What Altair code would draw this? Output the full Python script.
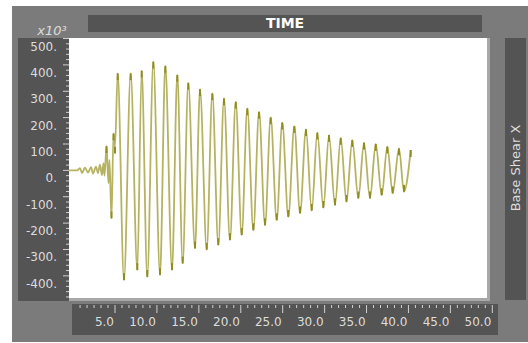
import altair as alt
import pandas as pd

# Base shear response (x10^3) against time (s)
time_s = [-0.48, 0.47, 0.83, 1.06, 1.42, 1.78, 2.14, 2.38, 2.73, 2.97,
          3.21, 3.45, 3.63, 3.75, 3.99, 4.22, 4.34, 4.58, 4.82, 5.00,
          5.32, 6.07, 6.87, 7.66, 8.18, 8.85, 9.57, 10.37, 11.00, 11.80,
          12.43, 13.07, 13.74, 14.54, 15.14, 15.94, 16.61, 17.32, 18.00, 18.71,
          19.40, 20.11, 20.78, 21.50, 22.18, 22.89, 23.57, 24.29, 24.95, 25.67,
          26.39, 27.07, 27.78, 28.46, 29.13, 29.85, 30.52, 31.24, 31.92, 32.61,
          33.30, 34.02, 34.70, 35.41, 36.10, 36.81, 37.48, 38.12, 38.87, 39.47,
          40.27]
base_shear = [0, 0, 8, -10, 10, -8, 12, -12, 14, -10,
              22, -18, 27, -20, 92, -49, 40, -182, 140, 90,
              368, -416, 368, -378, 378, -404, 412, -397, 396, -378,
              362, -353, 332, -296, 308, -301, 292, -283, 273, -264,
              260, -245, 235, -227, 222, -208, 201, -189, 181, -176,
              168, -163, 156, -153, 143, -142, 134, -132, 123, -119,
              115, -106, 105, -106, 100, -94, 90, -87, 83, -81,
              77]

x_ticks = [5.0, 10.0, 15.0, 20.0, 25.0, 30.0, 35.0, 40.0, 45.0, 50.0]
y_ticks = [-400, -300, -200, -100, 0, 100, 200, 300, 400, 500]
# five minor divisions between labelled x ticks, four between y ticks
x_minor = [k * 5 / 6 for k in range(1, 60) if k % 6 != 0]
y_minor = [v for v in range(-480, 500, 20) if v % 100 != 0]

# view origin inside the 528x343 canvas
OX, OY = 69, 38
W, H = 429, 260

FRAME = "#7b7b7b"
DARK = "#545454"
LABEL = "#dcdcdc"
TICK = "#d0d0d0"
FONT = "DejaVu Sans"

x_scale = alt.Scale(domain=[-0.487, 50.68], nice=False, zero=False)
y_scale = alt.Scale(domain=[-484, 502], nice=False, zero=False)

one = pd.DataFrame({"k": [0]})


def box(x0, y0, x1, y1, color):
    return alt.Chart(one).mark_rect(color=color).encode(
        x=alt.value(x0 - OX), x2=alt.value(x1 - OX),
        y=alt.value(y0 - OY), y2=alt.value(y1 - OY),
    )


def label(txt, x, y, **kw):
    return alt.Chart(one).mark_text(text=txt, **kw).encode(
        x=alt.value(x - OX), y=alt.value(y - OY)
    )


def xpos(field):
    return alt.X(field, scale=x_scale, axis=None)


def ypos(field):
    return alt.Y(field, scale=y_scale, axis=None)


frame = box(12, 6, 528, 342, FRAME)
title_bar = box(88, 15, 482, 32, DARK)
y_panel = box(18, 38, 69, 301, DARK)
x_panel = box(72, 304, 498, 335, DARK)
side_bar = box(505, 38, 526, 300, DARK)
shadow = box(69, 38, 490, 301, "#a8a8a8")
plot_bg = box(69, 38, 487, 298, "#ffffff")

# time scale drawn in the bottom panel
xt = pd.DataFrame({"t": x_ticks})
x_major_ticks = alt.Chart(xt).mark_rule(color=TICK, strokeWidth=1).encode(
    x=xpos("t:Q"), y=alt.value(305 - OY), y2=alt.value(313 - OY)
)
x_minor_ticks = alt.Chart(pd.DataFrame({"t": x_minor})).mark_rule(
    color=TICK, strokeWidth=1
).encode(x=xpos("t:Q"), y=alt.value(305 - OY), y2=alt.value(308 - OY))
x_labels = alt.Chart(xt).mark_text(
    align="right", baseline="middle", dx=-1, font=FONT, fontSize=12, color=LABEL
).encode(x=xpos("t:Q"), y=alt.value(322 - OY), text=alt.Text("t:Q", format=".1f"))

# shear scale drawn in the left panel
yt = pd.DataFrame({"v": y_ticks})
y_major_ticks = alt.Chart(yt).mark_rule(color=TICK, strokeWidth=1).encode(
    y=ypos("v:Q"), x=alt.value(63 - OX), x2=alt.value(69 - OX)
)
y_minor_ticks = alt.Chart(pd.DataFrame({"v": y_minor})).mark_rule(
    color=TICK, strokeWidth=1
).encode(y=ypos("v:Q"), x=alt.value(66 - OX), x2=alt.value(69 - OX))
y_labels = alt.Chart(yt).transform_calculate(
    lab="datum.v + '.'"
).mark_text(
    align="right", baseline="top", dy=3, font=FONT, fontSize=12, color=LABEL
).encode(y=ypos("v:Q"), x=alt.value(57 - OX), text="lab:N")

series = pd.DataFrame({"t": time_s, "v": base_shear})
trace = alt.Chart(series).mark_line(
    color="#b5b362", strokeWidth=1.8, interpolate="monotone"
).encode(x=xpos("t:Q"), y=ypos("v:Q"))

# darker crest marks where the trace turns at each swing
crests = alt.Chart(series).transform_filter(
    "abs(datum.v) > 60"
).transform_calculate(
    v2="datum.v - (datum.v > 0 ? 26 : -26)"
).mark_rule(color="#8f8c20", strokeWidth=2).encode(
    x=xpos("t:Q"), y=ypos("v:Q"), y2="v2:Q"
)

time_title = label("TIME", 285, 24, font=FONT, fontSize=14, fontWeight="bold",
                   color="#ffffff", align="center", baseline="middle")
shear_title = label("Base Shear X", 516, 168, font=FONT, fontSize=13,
                    color=LABEL, angle=270, align="center", baseline="middle")
unit_note = label("x10³", 52, 31, font=FONT, fontSize=13, fontStyle="italic",
                  color=LABEL, align="center", baseline="middle")

chart = alt.layer(
    frame, title_bar, y_panel, x_panel, side_bar, shadow, plot_bg,
    x_major_ticks, x_minor_ticks, x_labels,
    y_major_ticks, y_minor_ticks, y_labels,
    trace, crests, time_title, shear_title, unit_note,
).properties(
    width=W, height=H, autosize="none",
    padding={"left": OX, "top": OY, "right": 528 - OX - W, "bottom": 343 - OY - H},
    background="#ffffff",
).configure_view(stroke=None)

chart.save("out.html", embed_options={"renderer": "svg", "actions": False})
